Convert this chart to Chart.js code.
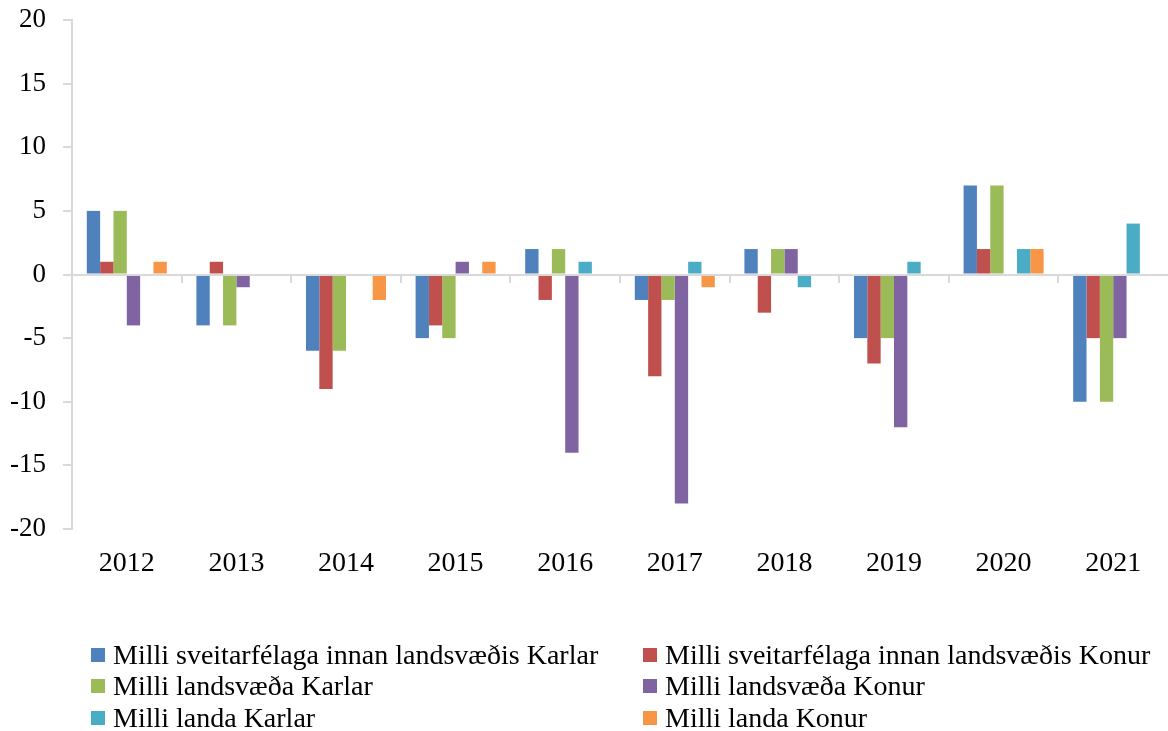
<!DOCTYPE html>
<html>
<head>
<meta charset="utf-8">
<script src="https://cdn.jsdelivr.net/npm/chart.js@4.4.1/dist/chart.umd.min.js"></script>
<style>
  html, body { margin: 0; padding: 0; background: #fff; }
  #wrap { position: relative; width: 1168px; height: 731px; }
  #chart { position: absolute; left: 0; top: 0; }
  #legend {
    position: absolute; left: 91px; top: 639px;
    display: grid; grid-template-columns: 552px 520px; grid-auto-rows: 31.5px;
    font-family: "Liberation Serif", serif; font-size: 28px; color: #000;
  }
  .item { display: flex; align-items: center; white-space: nowrap; }
  .box { width: 14px; height: 14px; margin-right: 8px; flex: none; }
</style>
</head>
<body>
<div id="wrap">
  <canvas id="chart" width="1168" height="731"></canvas>
  <div id="legend"></div>
</div>
<script>
const years = ['2012', '2013', '2014', '2015', '2016', '2017', '2018', '2019', '2020', '2021'];
const yTicks = [-20, -15, -10, -5, 0, 5, 10, 15, 20];

const seriesNames = [
  'Milli sveitarfélaga innan landsvæðis Karlar',
  'Milli sveitarfélaga innan landsvæðis Konur',
  'Milli landsvæða Karlar',
  'Milli landsvæða Konur',
  'Milli landa Karlar',
  'Milli landa Konur'
];
const seriesColors = ['#4F81BD', '#C0504D', '#9BBB59', '#8064A2', '#4BACC6', '#F79646'];

const sveitKarlar  = [5, -4, -6, -5, 2, -2, 2, -5, 7, -10];
const sveitKonur   = [1, 1, -9, -4, -2, -8, -3, -7, 2, -5];
const landsvKarlar = [5, -4, -6, -5, 2, -2, 2, -5, 7, -10];
const landsvKonur  = [-4, -1, 0, 1, -14, -18, 2, -12, 0, -5];
const landaKarlar  = [0, 0, 0, 0, 1, 1, -1, 1, 2, 4];
const landaKonur   = [1, 0, -2, 1, 0, -1, 0, 0, 2, 0];

const seriesValues = [sveitKarlar, sveitKonur, landsvKarlar, landsvKonur, landaKarlar, landaKonur];

const FONT = '"Liberation Serif", serif';
const AXIS_GREY = '#d9d9d9';

// Zero line across the plot with short ticks between the year groups
const zeroAxis = {
  id: 'zeroAxis',
  afterDatasetsDraw(chart) {
    const { ctx, chartArea, scales: { x, y } } = chart;
    const y0 = Math.round(y.getPixelForValue(0));
    const half = (x.getPixelForValue(1) - x.getPixelForValue(0)) / 2;
    ctx.save();
    ctx.strokeStyle = AXIS_GREY;
    ctx.lineWidth = 2;
    ctx.beginPath();
    ctx.moveTo(chartArea.left, y0);
    ctx.lineTo(chartArea.right, y0);
    for (let i = 1; i < years.length; i++) {
      const px = Math.round(x.getPixelForValue(i) - half);
      ctx.moveTo(px, y0);
      ctx.lineTo(px, y0 + 8);
    }
    ctx.stroke();
    ctx.restore();
  }
};

const datasets = seriesNames.map((name, i) => ({
  label: name,
  data: seriesValues[i],
  backgroundColor: seriesColors[i],
  borderWidth: 0,
  categoryPercentage: 0.73,
  barPercentage: 1.0
}));

const chart = new Chart(document.getElementById('chart'), {
  type: 'bar',
  data: { labels: years, datasets },
  plugins: [zeroAxis],
  options: {
    responsive: false,
    animation: false,
    layout: { padding: { top: 20, right: 0, bottom: 0, left: 0 } },
    plugins: { legend: { display: false }, tooltip: { enabled: false } },
    scales: {
      x: {
        type: 'category',
        position: 'bottom',
        offset: true,
        grid: { display: false },
        border: { display: false },
        ticks: { color: '#000', font: { family: FONT, size: 28 }, padding: 10 },
        afterFit: (s) => { s.height = 202; }
      },
      y: {
        min: -20,
        max: 20,
        afterBuildTicks: (s) => { s.ticks = yTicks.map(v => ({ value: v })); },
        grid: {
          drawOnChartArea: false,
          tickLength: 9,
          color: AXIS_GREY,
          tickColor: AXIS_GREY,
          lineWidth: 2
        },
        border: { color: AXIS_GREY, width: 2 },
        ticks: { color: '#000', font: { family: FONT, size: 27 }, padding: 17 },
        afterFit: (s) => {
          s.width = 72;
          s.paddingTop = 0;
          s.paddingBottom = 0;
        }
      }
    }
  }
});

// Two-column legend built from the chart's datasets
const legendEl = document.getElementById('legend');
chart.data.datasets.forEach(ds => {
  const item = document.createElement('div');
  item.className = 'item';
  const box = document.createElement('span');
  box.className = 'box';
  box.style.background = ds.backgroundColor;
  const txt = document.createElement('span');
  txt.textContent = ds.label;
  item.appendChild(box);
  item.appendChild(txt);
  legendEl.appendChild(item);
});
</script>
</body>
</html>
